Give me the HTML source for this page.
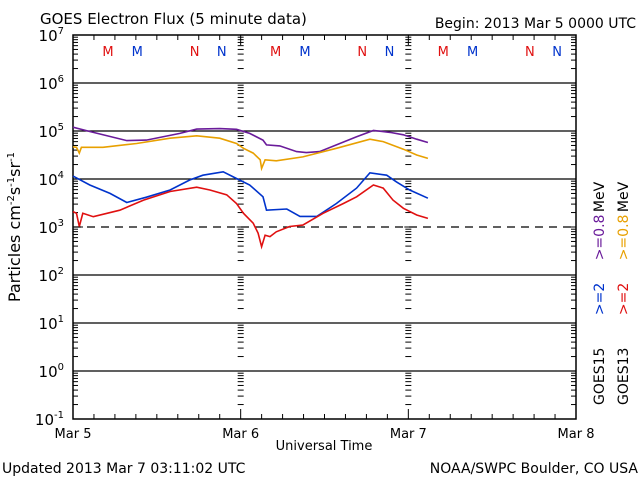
<!DOCTYPE html>
<html><head><meta charset="utf-8"><style>
body{margin:0;background:#fff;}
svg{display:block;font-family:"DejaVu Sans","Liberation Sans",sans-serif;}
</style></head><body>
<svg id="c" width="640" height="480" viewBox="0 0 640 480" xmlns="http://www.w3.org/2000/svg">
<rect width="640" height="480" fill="#fff"/>
<text x="40" y="24" font-size="15">GOES Electron Flux (5 minute data)</text>
<text x="636" y="28" font-size="14" text-anchor="end">Begin: 2013 Mar 5 0000 UTC</text>
<text x="2" y="473" font-size="14">Updated 2013 Mar  7 03:11:02 UTC</text>
<text x="638" y="473" font-size="14" text-anchor="end">NOAA/SWPC Boulder, CO USA</text>
<text x="324" y="450" font-size="13" text-anchor="middle">Universal Time</text>
<text transform="translate(20,227) rotate(-90)" font-size="16" text-anchor="middle">Particles cm<tspan font-size="10" dy="-6">-2</tspan><tspan dy="6">s</tspan><tspan font-size="10" dy="-6">-1</tspan><tspan dy="6">sr</tspan><tspan font-size="10" dy="-6">-1</tspan></text>
<g id="legend" font-size="14">
<text transform="translate(604,405) rotate(-90)"><tspan fill="#000">GOES15 </tspan><tspan fill="#0033cc" dx="28">&gt;=2 </tspan><tspan fill="#6a1b9a" dx="18">&gt;=0.8 </tspan><tspan fill="#000" dx="-2">MeV</tspan></text>
<text transform="translate(628,405) rotate(-90)"><tspan fill="#000">GOES13 </tspan><tspan fill="#e01010" dx="28">&gt;=2 </tspan><tspan fill="#e8a000" dx="18">&gt;=0.8 </tspan><tspan fill="#000" dx="-2">MeV</tspan></text>
</g>
<g id="axes"></g>
<g id="series"></g>
</svg>
<script>
// data: hours since 2013-03-05 00:00 UTC, log10 flux
const purpleH=[0,2.4,7.7,10.5,15.3,17.7,21,23.4,25.3,27.2,27.7,29.6,32,33.4,35.3,37.7,40.6,43,45.4,47.3,49.2,50.8];
const purpleV=[5.08,4.99,4.80,4.81,4.95,5.04,5.05,5.035,4.95,4.81,4.71,4.69,4.57,4.55,4.57,4.71,4.88,5.01,4.97,4.92,4.83,4.76];
const orangeH=[0,0.5,0.9,1.2,4.3,9.1,13.9,17.7,21,23.4,24.4,25.8,26.8,27,27.5,29.1,32.9,37.7,42.5,44.4,47.3,49.2,50.8];
const orangeV=[4.67,4.66,4.54,4.66,4.66,4.74,4.85,4.90,4.85,4.74,4.64,4.54,4.40,4.22,4.40,4.38,4.46,4.64,4.83,4.78,4.62,4.50,4.43];
const blueH=[0,2.4,5.3,7.7,10.5,13.9,16.7,18.6,21.5,23.4,25.3,27.2,27.7,30.6,32.5,34.9,37.7,40.6,42.5,44.9,46.3,48.2,50.8];
const blueV=[4.06,3.875,3.70,3.51,3.62,3.77,3.98,4.08,4.15,4.01,3.875,3.63,3.35,3.375,3.22,3.22,3.49,3.81,4.13,4.08,3.94,3.77,3.60];
const redH=[0,0.5,0.9,1.4,2.9,6.7,10.1,13.9,17.7,19.6,22,23.4,24.4,25.8,26.5,27,27.5,28.2,29.1,31,32.9,35.8,38.7,40.6,43,44.4,45.8,47.3,49.2,50.8];
const redV=[3.32,3.285,3.01,3.285,3.215,3.35,3.56,3.74,3.83,3.77,3.67,3.49,3.285,3.08,2.87,2.59,2.83,2.80,2.90,3.01,3.04,3.285,3.49,3.63,3.875,3.81,3.56,3.39,3.25,3.18];
const yTickExp=[7,6,5,4,3,2,1,0,-1];
const xTickLabels=["Mar 5","Mar 6","Mar 7","Mar 8"];
const markerLabels=["M","M","N","N"];
const markerHours=[5,9.2,17.4,21.3];

const L=73,R=576,T=35,B=419;
const NS="http://www.w3.org/2000/svg";
const xS=h=>L+(R-L)*h/72;
const yS=v=>T+(7-v)*(B-T)/8;
function mk(tag,attrs,parent){const e=document.createElementNS(NS,tag);for(const k in attrs)e.setAttribute(k,attrs[k]);parent.appendChild(e);return e;}
const ax=document.getElementById('axes');
yTickExp.forEach(e=>{
  if(e===7||e===-1)return;
  const l=mk('line',{x1:L,x2:R,y1:yS(e),y2:yS(e),stroke:'#000','stroke-width':1.3},ax);
  if(e===3)l.setAttribute('stroke-dasharray','8,6');
  
  
});
[1,2].forEach(d=>{
  const x=xS(d*24);
  for(let e=-1;e<7;e++){
    for(let m=1;m<10;m++){
      const y=yS(e+Math.log10(m));
      const w=m===1?4:3;
      const t=mk('line',{x1:x-w,x2:x+w,y1:y,y2:y,stroke:'#000','stroke-width':1},ax);
      
      
    }
  }
});
const fr=mk('rect',{x:L,y:T,width:R-L,height:B-T,fill:'none',stroke:'#000','stroke-width':1.5},ax);


for(let e=-1;e<7;e++){
  for(let m=1;m<10;m++){
    const y=yS(e+Math.log10(m));
    const w=m===1?10:5;
    mk('line',{x1:L,x2:L+w,y1:y,y2:y,stroke:'#000'},ax);
    mk('line',{x1:R,x2:R-w,y1:y,y2:y,stroke:'#000'},ax);
  }
}
yTickExp.forEach(e=>{
  const t=mk('text',{x:L-9,y:yS(e)+6,'font-size':15,'text-anchor':'end'},ax);
  
  
  const base=mk('tspan',{},t);base.textContent='10';
  const s=mk('tspan',{'font-size':10,dy:-7},t);s.textContent=String(e);
});
for(let h=0;h<=72;h+=3){
  const x=xS(h);const w=h%24===0?10:5;
  mk('line',{x1:x,x2:x,y1:B,y2:B-w,stroke:'#000'},ax);
  mk('line',{x1:x,x2:x,y1:T,y2:T+w,stroke:'#000'},ax);
}
xTickLabels.forEach((s,i)=>{
  const t=mk('text',{x:xS(i*24),y:438,'font-size':13,'text-anchor':'middle'},ax);
  t.textContent=s;
  
  
});
for(let d=0;d<3;d++){
  markerLabels.forEach((s,i)=>{
    const t=mk('text',{x:xS(d*24+markerHours[i]),y:56,'font-size':13,'text-anchor':'middle',fill:i%2===0?'#e01010':'#0033cc'},ax);
    t.textContent=s;
    
    
  });
}
const sg=document.getElementById('series');
function line(H,V,color,name){
  const d=H.map((h,i)=>(i?'L':'M')+xS(h).toFixed(1)+','+yS(V[i]).toFixed(1)).join('');
  const p=mk('path',{d:d,fill:'none',stroke:color,'stroke-width':1.6},sg);
  
  
}
line(purpleH,purpleV,'#6a1b9a','series-goes15-0.8mev');
line(orangeH,orangeV,'#e8a000','series-goes13-0.8mev');
line(blueH,blueV,'#0033cc','series-goes15-2mev');
line(redH,redV,'#e01010','series-goes13-2mev');
</script>
</body></html>
